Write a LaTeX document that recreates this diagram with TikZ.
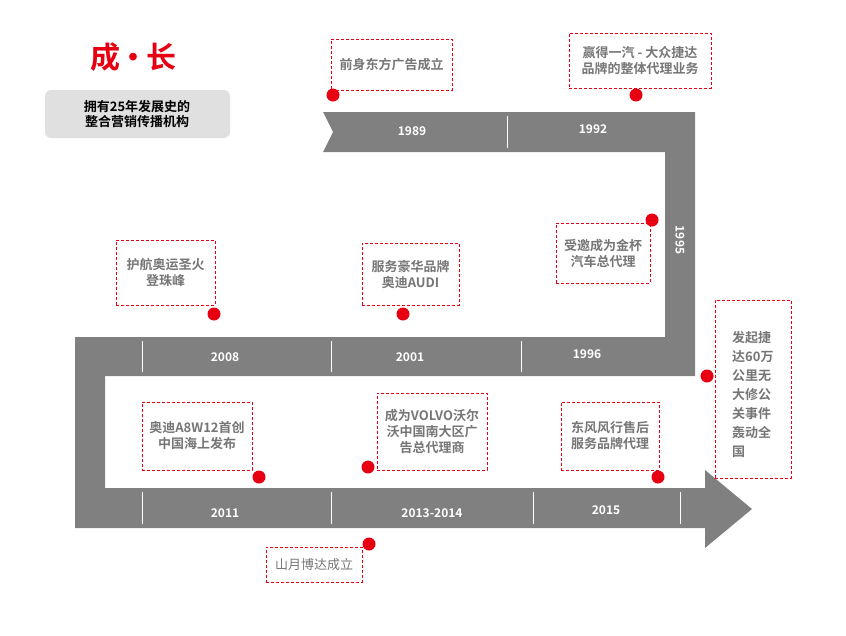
\documentclass[tikz,border=0pt]{standalone}
\usepackage{fontspec}
\setmainfont{Noto Sans CJK SC}[BoldFont={Noto Sans CJK SC Bold}]
\usetikzlibrary{calc}
\definecolor{band}{RGB}{128,128,128}
\definecolor{dotred}{RGB}{230,0,18}
\definecolor{note}{RGB}{118,118,118}
\tikzset{
  year/.style={text=white, font=\bfseries\fontsize{12}{13}\selectfont},
  callout/.style={draw=dotred, densely dashed, line width=0.6pt, text=note,
    font=\bfseries\fontsize{13}{16}\selectfont, align=center, inner sep=0pt},
  dot/.style={circle, fill=dotred, inner sep=0pt, minimum size=13pt},
  sep/.style={white, line width=1pt}
}
\begin{document}
\begin{tikzpicture}[x=1pt, y=-1pt]
  \useasboundingbox (0,0) rectangle (846,635);
  % band
  \fill[band] (323,112) -- (695,112) -- (695,376) -- (105,376) -- (105,488)
    -- (705,488) -- (705,470) -- (752,509) -- (705,548) -- (705,528)
    -- (75,528) -- (75,337) -- (665,337) -- (665,152) -- (323,152)
    -- (333,132) -- cycle;
  \foreach \x in {507}
    \draw[sep] (\x,116) -- (\x,148);
  \foreach \x in {142, 331, 521}
    \draw[sep] (\x,341) -- (\x,372);
  \foreach \x in {142, 331, 533, 680}
    \draw[sep] (\x,492) -- (\x,524);
  \node[year] (y1989) at (412,131) {1989};
  \node[year] (y1992) at (593,129) {1992};
  \node[year, rotate=-90] (y1995) at (680,240) {1995};
  \node[year] (y2008) at (225,357) {2008};
  \node[year] (y2001) at (410,357) {2001};
  \node[year] (y1996) at (587,354) {1996};
  \node[year] (y2011) at (225,513) {2011};
  \node[year] (y2013) at (432,513) {2013-2014};
  \node[year] (y2015) at (606,510) {2015};
  % title
  \node[text=dotred, font=\bfseries\fontsize{30}{32}\selectfont] (title) at (133,57) {成{\kern-2pt}•{\kern-2pt}长};
  \fill[black!12, rounded corners=6pt] (45,90) rectangle (230,138);
  \node[font=\bfseries\fontsize{13}{15}\selectfont, align=center] (sub) at (137,114)
    {拥有25年发展史的\\整合营销传播机构};
  % callouts
  \node[callout, minimum width=121pt, minimum height=51pt] (c1989) at (391.5,64.5) {前身东方广告成立};
  \node[dot] (d1989) at (333,95) {};
  \node[callout, minimum width=142pt, minimum height=55pt] (c1992) at (640,60.5) {赢得一汽 - 大众捷达\\品牌的整体代理业务};
  \node[dot] (d1992) at (636,95) {};
  \node[callout, minimum width=94pt, minimum height=60pt] (c1995) at (603,253) {受邀成为金杯\\汽车总代理};
  \node[dot] (d1995) at (652,220) {};
  \node[callout, minimum width=97pt, minimum height=62pt] (c2001) at (410.5,274) {服务豪华品牌\\奥迪AUDI};
  \node[dot] (d2001) at (403,314) {};
  \node[callout, minimum width=99pt, minimum height=65pt] (c2008) at (165.5,272.5) {护航奥运圣火\\登珠峰};
  \node[dot] (d2008) at (214,314) {};
  \node[callout, minimum width=76pt, minimum height=178pt] (c1996) at (753,389) {};
  \node[text=note, font=\bfseries\fontsize{13}{19}\selectfont, align=left, anchor=north west, inner sep=0pt]
    (t1996) at (732,331) {发起捷\\达60万\\公里无\\大修公\\关事件\\轰动全\\国};
  \node[dot] (d1996) at (707,376) {};
  \node[callout, minimum width=110pt, minimum height=68pt] (c2011) at (197,436) {奥迪A8W12首创\\中国海上发布};
  \node[dot] (d2011) at (259,477) {};
  \node[callout, minimum width=110pt, minimum height=77pt] (c2013) at (432,431.5) {成为VOLVO沃尔\\沃中国南大区广\\告总代理商};
  \node[dot] (d2013) at (368,467) {};
  \node[callout, minimum width=98pt, minimum height=68pt] (c2015) at (610,436) {东风风行售后\\服务品牌代理};
  \node[dot] (d2015) at (658,477) {};
  \node[callout, minimum width=96pt, minimum height=35pt, font=\fontsize{13}{16}\selectfont] (c2011b) at (314,564.5) {山月博达成立};
  \node[dot] (d2011b) at (369,544) {};
\end{tikzpicture}
\end{document}
